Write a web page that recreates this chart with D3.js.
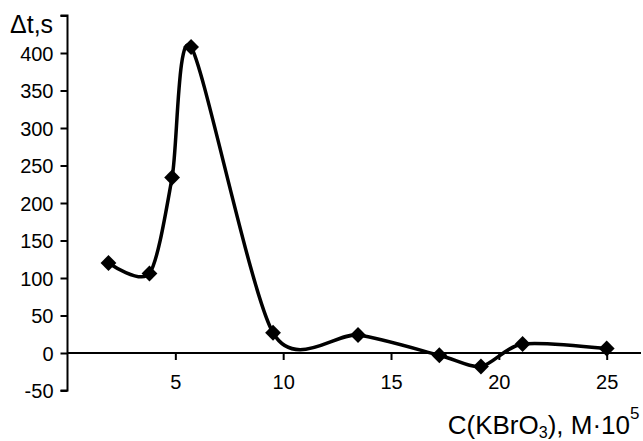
<!DOCTYPE html>
<html><head><meta charset="utf-8">
<script src="https://cdn.jsdelivr.net/npm/d3@7"></script>
<style>body{margin:0;background:#fff}svg{display:block}text{font-family:Arial,"Liberation Sans",sans-serif;fill:#000}</style>
</head><body>
<svg id="c" width="643" height="441"></svg>
<script>
const concentrations = [1.9, 3.8, 4.85, 5.73, 9.53, 13.47, 17.24, 19.17, 21.1, 25];
const deltaT = [120, 106, 234, 408, 27, 24, -3, -18, 12, 6];
const xTicks = [5, 10, 15, 20, 25];
const yTicks = [-50, 0, 50, 100, 150, 200, 250, 300, 350, 400, 450];
const yTickLabels = ["-50", "0", "50", "100", "150", "200", "250", "300", "350", "400", ""];

const svg = d3.select("#c");
const x = d3.scaleLinear().domain([0, 25]).range([67.5, 606.7]);
const y = d3.scaleLinear().domain([-50, 450]).range([390.5, 15.5]);

// Y axis
const yAxis = d3.axisLeft(y).tickValues(yTicks).tickSize(7).tickPadding(7)
  .tickFormat((d, i) => yTickLabels[i]);
const gy = svg.append("g").attr("transform", `translate(${x(0)},0)`).call(yAxis);
gy.select(".domain").attr("stroke", "#000").attr("stroke-width", 2).attr("d", `M-7,${y(450)}H0V${y(-50)}H-7`);
gy.selectAll(".tick line").attr("stroke", "#000").attr("stroke-width", 2);
gy.selectAll(".tick text").attr("font-size", 20).attr("font-family", "Arial, 'Liberation Sans', sans-serif").attr("dy", "0.36em");

// X axis at zero
const xAxis = d3.axisBottom(x).tickValues(xTicks).tickSize(7).tickPadding(15);
const gx = svg.append("g").attr("transform", `translate(0,${y(0)})`).call(xAxis);
gx.select(".domain").attr("stroke", "#000").attr("stroke-width", 2).attr("d", `M${x(0)},0H641`);
gx.selectAll(".tick line").attr("stroke", "#000").attr("stroke-width", 2);
gx.selectAll(".tick text").attr("font-size", 20).attr("font-family", "Arial, 'Liberation Sans', sans-serif");

// Curve
const data = concentrations.map((c, i) => [c, deltaT[i]]);
const line = d3.line().x(d => x(d[0])).y(d => y(d[1])).curve(d3.curveCardinal.tension(0.2));
svg.append("path").datum(data).attr("d", line).attr("fill", "none").attr("stroke", "#000").attr("stroke-width", 3.5).attr("stroke-linejoin", "round");

// Markers (diamonds)
svg.selectAll(".m").data(data).join("path").attr("class", "m")
  .attr("d", d3.symbol(d3.symbolSquare, 125)())
  .attr("transform", d => `translate(${x(d[0])},${y(d[1])}) rotate(45)`)
  .attr("fill", "#000");

// Titles
svg.append("text").attr("x", 10).attr("y", 33).attr("font-size", 25).text("Δt,s");
const xt = svg.append("text").attr("x", 630).attr("y", 434).attr("text-anchor", "end").attr("font-size", 26);
xt.append("tspan").text("C(KBrO");
xt.append("tspan").attr("font-size", 16).attr("dy", 4).text("3");
xt.append("tspan").attr("dy", -4).text("), M·10");
svg.append("text").attr("x", 630).attr("y", 419).attr("font-size", 17).text("5");
</script>
</body></html>
